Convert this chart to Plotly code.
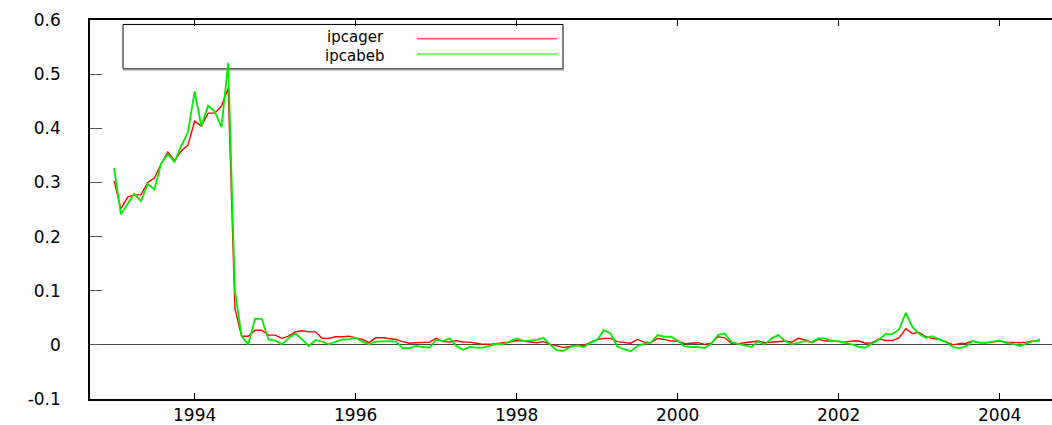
import numpy as np
import plotly.graph_objects as go

# Monthly series, January 1993 through July 2004
start_year = 1993
ipcager = [
    0.303, 0.251, 0.273, 0.277, 0.277, 0.300, 0.308, 0.334, 0.356, 0.340, 0.358, 0.369,
    0.413, 0.404, 0.428, 0.428, 0.441, 0.474, 0.068, 0.016, 0.016, 0.027, 0.027, 0.018,
    0.018, 0.012, 0.016, 0.024, 0.026, 0.024, 0.024, 0.012, 0.012, 0.015, 0.015, 0.016,
    0.013, 0.010, 0.004, 0.013, 0.013, 0.012, 0.010, 0.006, 0.003, 0.004, 0.004, 0.005,
    0.012, 0.006, 0.005, 0.008, 0.005, 0.005, 0.003, 0.001, 0.001, 0.003, 0.004, 0.005,
    0.008, 0.007, 0.005, 0.004, 0.006, 0.001, -0.002, -0.005, -0.003, -0.001, -0.001, 0.005,
    0.010, 0.012, 0.012, 0.006, 0.004, 0.003, 0.010, 0.005, 0.004, 0.012, 0.010, 0.007,
    0.007, 0.002, 0.003, 0.004, 0.001, 0.003, 0.015, 0.013, 0.003, 0.002, 0.004, 0.006,
    0.007, 0.004, 0.005, 0.006, 0.007, 0.005, 0.012, 0.009, 0.004, 0.010, 0.007, 0.007,
    0.006, 0.005, 0.007, 0.007, 0.003, 0.004, 0.011, 0.008, 0.008, 0.013, 0.030, 0.021,
    0.023, 0.015, 0.012, 0.010, 0.006, 0.000, 0.002, 0.003, 0.007, 0.004, 0.004, 0.006,
    0.007, 0.005, 0.004, 0.004, 0.005, 0.007, 0.009,
]
ipcabeb = [
    0.327, 0.241, 0.260, 0.279, 0.265, 0.297, 0.287, 0.335, 0.352, 0.338, 0.367, 0.393,
    0.468, 0.404, 0.442, 0.431, 0.402, 0.521, 0.100, 0.016, 0.001, 0.048, 0.048, 0.010,
    0.008, 0.001, 0.012, 0.021, 0.010, -0.002, 0.009, 0.006, 0.001, 0.005, 0.010, 0.010,
    0.013, 0.006, 0.001, 0.006, 0.007, 0.007, 0.006, -0.006, -0.006, -0.002, -0.004, -0.005,
    0.009, 0.007, 0.012, -0.002, -0.009, -0.004, -0.005, -0.005, -0.002, 0.002, 0.001, 0.006,
    0.012, 0.007, 0.008, 0.009, 0.013, 0.000, -0.010, -0.011, -0.004, -0.001, -0.004, 0.004,
    0.009, 0.027, 0.021, -0.003, -0.008, -0.012, -0.002, 0.002, 0.004, 0.018, 0.015, 0.015,
    0.008, -0.003, -0.004, -0.004, -0.006, 0.002, 0.018, 0.021, 0.005, 0.002, -0.001, -0.004,
    0.006, 0.001, 0.012, 0.018, 0.007, 0.001, 0.004, 0.007, 0.005, 0.012, 0.012, 0.007,
    0.007, 0.003, 0.001, -0.004, -0.005, 0.002, 0.010, 0.020, 0.020, 0.028, 0.059, 0.033,
    0.020, 0.013, 0.016, 0.010, 0.005, -0.004, -0.006, -0.003, 0.007, 0.004, 0.004, 0.006,
    0.008, 0.003, 0.002, -0.002, 0.002, 0.007, 0.008,
]
series_names = ["ipcager", "ipcabeb"]
series_colors = ["#ff0000", "#00ee00"]

x_ticks = [1994, 1996, 1998, 2000, 2002, 2004]
x_tick_labels = ["1994", "1996", "1998", "2000", "2002", "2004"]
y_ticks = [0.6, 0.5, 0.4, 0.3, 0.2, 0.1, 0.0, -0.1]
y_tick_labels = ["0.6", "0.5", "0.4", "0.3", "0.2", "0.1", "0", "-0.1"]

t = start_year + np.arange(len(ipcager)) / 12.0

W, H = 1052, 425
ML, MR, MT, MB = 90, 0, 20, 23
FONT = "DejaVu Sans"

fig = go.Figure()
fig.add_trace(go.Scatter(x=t, y=ipcager, mode="lines", name=series_names[0],
                         line=dict(color=series_colors[0], width=1.4)))
fig.add_trace(go.Scatter(x=t, y=ipcabeb, mode="lines", name=series_names[1],
                         line=dict(color=series_colors[1], width=1.8)))

fig.update_layout(
    width=W, height=H,
    margin=dict(l=ML, r=MR, t=MT, b=MB, pad=0),
    paper_bgcolor="white", plot_bgcolor="white",
    showlegend=False,
    font=dict(family=FONT, size=16, color="black"),
)
fig.update_xaxes(
    range=[1992.70, 2004.65],
    tickvals=x_ticks, ticktext=x_tick_labels,
    ticks="inside", ticklen=6, tickcolor="black", tickwidth=1,
    showline=True, linecolor="black", linewidth=1.5, mirror="ticks",
    showgrid=False, zeroline=False,
    tickfont=dict(family=FONT, size=17),
)
fig.update_yaxes(
    range=[-0.1, 0.6],
    tickvals=y_ticks, ticktext=y_tick_labels,
    ticks="inside", ticklen=12, tickcolor="#555555", tickwidth=1,
    showline=True, linecolor="black", linewidth=1.5, mirror=False,
    showgrid=False, zeroline=True, zerolinecolor="#444444", zerolinewidth=1,
    tickfont=dict(family=FONT, size=17),
    ticklabelstandoff=24,
)

# Key box in the upper left, text right-aligned and the line sample to its right
pw, ph = W - ML - MR, H - MT - MB
def px(xp):
    return (xp - ML) / pw
def py(yp):
    return (H - MB - yp) / ph

box_l, box_r, box_t, box_b = 123, 563, 24.5, 69
fig.add_shape(type="rect", xref="paper", yref="paper",
              x0=px(box_l), x1=px(box_r), y0=py(box_b), y1=py(box_t),
              line=dict(color="black", width=1), fillcolor="white", layer="below")
fig.add_shape(type="line", xref="paper", yref="paper",
              x0=px(box_l), x1=px(box_r + 1), y0=py(box_b + 1), y1=py(box_b + 1),
              line=dict(color="#999999", width=2), layer="below")
text_rows = [37.0, 56.0]
line_rows = [39.0, 54.3]
for name, color, ytext, yline in zip(series_names, series_colors, text_rows, line_rows):
    fig.add_annotation(x=px(386), y=py(ytext), xref="paper", yref="paper",
                       text=name, showarrow=False, xanchor="right", yanchor="middle",
                       font=dict(family=FONT, size=15, color="black"))
    fig.add_shape(type="line", xref="paper", yref="paper",
                  x0=px(417), x1=px(557), y0=py(yline), y1=py(yline),
                  line=dict(color=color, width=1), layer="below")

fig.write_html("out.html")
